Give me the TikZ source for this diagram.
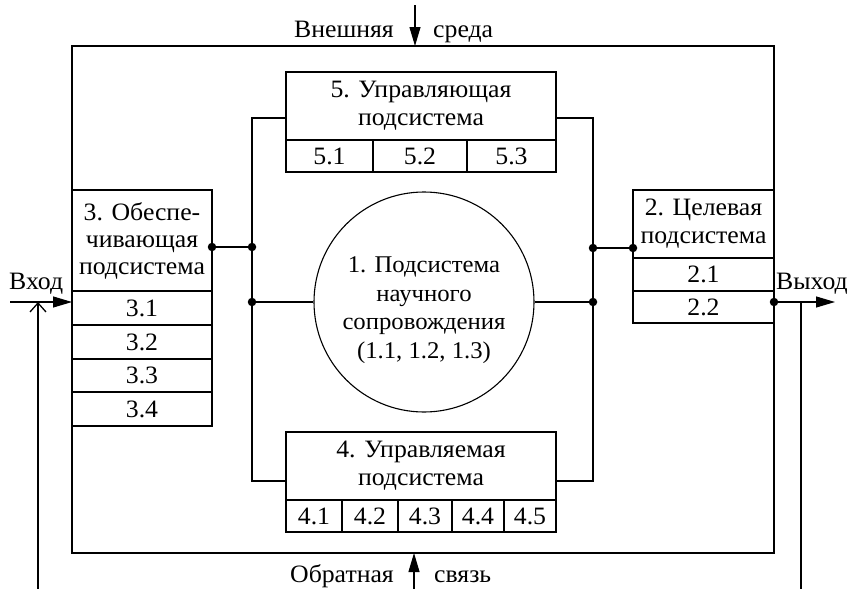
\documentclass[tikz,border=0pt]{standalone}
\usepackage{fontspec}
\setmainfont[FakeStretch=1.03]{Liberation Serif}
\usetikzlibrary{arrows.meta,calc}
\begin{document}
\begin{tikzpicture}[x=1pt,y=-1pt,
  every node/.style={font=\fontsize{25}{28}\selectfont},
  ln/.style={line width=1.1pt},
  boxn/.style={draw,line width=1.1pt,inner sep=0pt,outer sep=0pt,anchor=north west,align=center},
  dotn/.style={circle,fill,inner sep=0pt,minimum size=8.5pt},
  farrow/.style={ln,-{Triangle[length=19pt,width=11pt]}},
  barrow/.style={ln,-{Straight Barb[length=9pt,width=16pt,line width=1.3pt]}}
]
\useasboundingbox (0,0) rectangle (849,589);
% frame
\node[boxn,minimum width=702pt,minimum height=507pt] (frame) at (72,46) {};
% box 3
\node[boxn,minimum width=140pt,minimum height=101pt] (h3) at (72,190) {3. Обеспе-\\[-1pt]чивающая\\[-1pt]подсистема};
\node[boxn,minimum width=140pt,minimum height=34pt] (c31) at (72,291) {3.1};
\node[boxn,minimum width=140pt,minimum height=34pt] (c32) at (72,325) {3.2};
\node[boxn,minimum width=140pt,minimum height=33pt] (c33) at (72,359) {3.3};
\node[boxn,minimum width=140pt,minimum height=34pt] (c34) at (72,392) {3.4};
% box 2
\node[boxn,minimum width=141pt,minimum height=68pt] (h2) at (633,190) {2. Целевая\\подсистема};
\node[boxn,minimum width=141pt,minimum height=33pt] (c21) at (633,258) {2.1};
\node[boxn,minimum width=141pt,minimum height=32pt] (c22) at (633,291) {2.2};
% box 5
\node[boxn,minimum width=270pt,minimum height=68pt] (h5) at (286,72) {5. Управляющая\\подсистема};
\node[boxn,minimum width=87pt,minimum height=32pt] (c51) at (286,140) {5.1};
\node[boxn,minimum width=94pt,minimum height=32pt] (c52) at (373,140) {5.2};
\node[boxn,minimum width=89pt,minimum height=32pt] (c53) at (467,140) {5.3};
% box 4
\node[boxn,minimum width=270pt,minimum height=68pt] (h4) at (286,432) {4. Управляемая\\подсистема};
\node[boxn,minimum width=56pt,minimum height=32pt] (c41) at (286,500) {4.1};
\node[boxn,minimum width=56pt,minimum height=32pt] (c42) at (342,500) {4.2};
\node[boxn,minimum width=54pt,minimum height=32pt] (c43) at (398,500) {4.3};
\node[boxn,minimum width=52pt,minimum height=32pt] (c44) at (452,500) {4.4};
\node[boxn,minimum width=52pt,minimum height=32pt] (c45) at (504,500) {4.5};
% circle
\node[draw,line width=1.1pt,circle,minimum size=220pt,inner sep=0pt] (circ) at (424,302) {};
\node[align=center,inner sep=0pt,font=\fontsize{24}{28.5}\selectfont] (ctext) at ($(circ.center)+(0,8)$)
  {1. Подсистема\\научного\\сопровождения\\(1.1, 1.2, 1.3)};
% bus coordinates
\coordinate (lt) at (252,118);
\coordinate (lb) at (252,481);
\coordinate (rt) at (593,118);
\coordinate (rb) at (593,481);
\coordinate (l1) at (252,247);
\coordinate (l2) at (252,302);
\coordinate (r1) at (593,248);
\coordinate (r2) at (593,302);
\coordinate (p3) at (212,247);
\coordinate (p2) at (633,248);
\coordinate (po) at (774,302);
\coordinate (pi) at (72,302);
\draw[ln] (h5.west |- lt) -- (lt) -- (lb) -- (h4.west |- lb);
\draw[ln] (h5.east |- rt) -- (rt) -- (rb) -- (h4.east |- rb);
\draw[ln] (p3) -- (l1);
\draw[ln] (l2) -- (circ.west);
\draw[ln] (circ.east) -- (r2);
\draw[ln] (r1) -- (p2);
\foreach \p in {p3,l1,l2,r1,r2,p2,po} \node[dotn] (d\p) at (\p) {};
% input / output
\coordinate (inS) at (10,302);
\coordinate (outE) at (835,302);
\draw[farrow] (inS) -- (pi);
\draw[farrow] (po) -- (outE);
\coordinate (fbL) at (38,589);
\coordinate (fbLt) at (38,302);
\draw[barrow] (fbL) -- (fbLt);
\coordinate (fbR) at (801,589);
\coordinate (fbRt) at (801,302);
\draw[ln] (fbRt) -- (fbR);
\node[anchor=base west,inner sep=0pt] (vhod) at (9,289) {Вход};
\node[anchor=base east,inner sep=0pt] (vyhod) at (848,289) {Выход};
% top / bottom
\coordinate (topS) at (415,5);
\draw[farrow] (topS) -- (frame.north -| topS);
\node[anchor=base east,inner sep=0pt] (vn) at (394,37) {Внешняя};
\node[anchor=base west,inner sep=0pt] (sr) at (433,37) {среда};
\coordinate (botS) at (414,589);
\draw[farrow] (botS) -- (frame.south -| botS);
\node[anchor=base east,inner sep=0pt] (ob) at (394,582) {Обратная};
\node[anchor=base west,inner sep=0pt] (sv) at (434,582) {связь};
\end{tikzpicture}
\end{document}
